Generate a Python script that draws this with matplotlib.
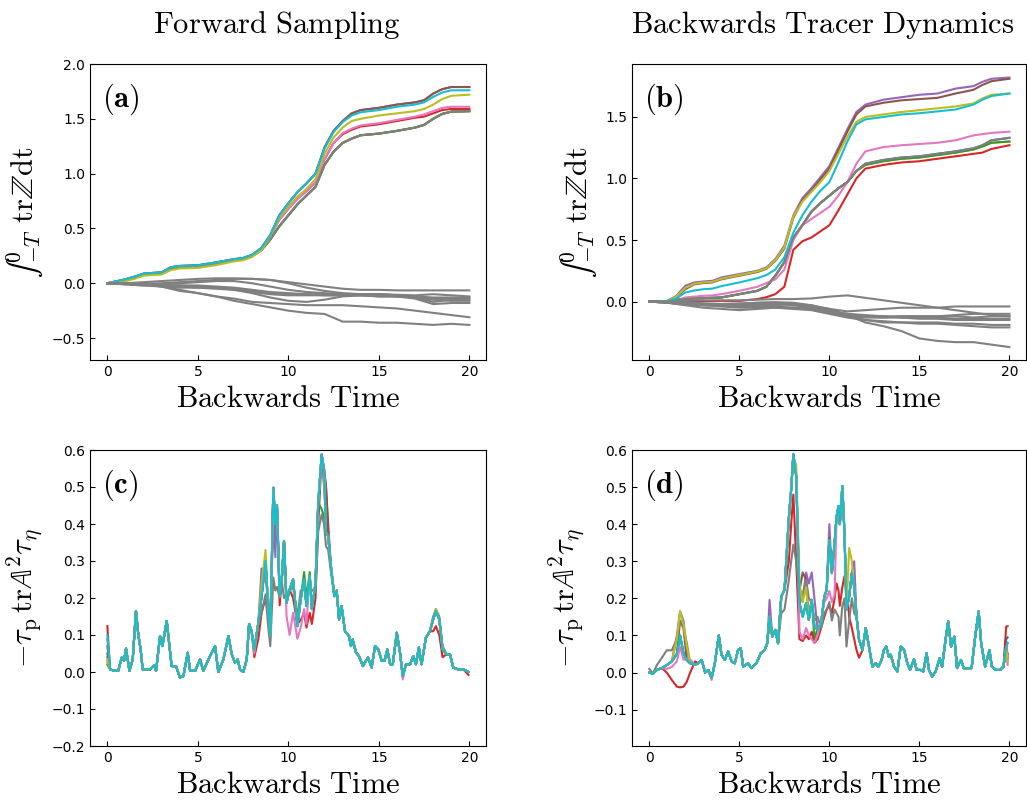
import numpy as np
import matplotlib.pyplot as plt

plt.rcParams['mathtext.fontset'] = 'cm'

# ---------------- panel (a): forward sampling, integrated trZ ----------------
a_t = [0, 1, 1.5, 2, 3, 3.5, 4, 5, 6, 7, 7.5, 8, 8.5, 9, 9.5, 10, 10.5, 11, 11.5,
       12, 12.5, 13, 13.5, 14, 15, 16, 17, 17.5, 18, 18.5, 19, 20]
a_top = [0, 0.036, 0.06, 0.088, 0.10, 0.146, 0.158, 0.164, 0.19, 0.22, 0.23, 0.26, 0.32,
         0.44, 0.62, 0.73, 0.83, 0.91, 1.0, 1.24, 1.39, 1.48, 1.55, 1.58, 1.60, 1.63,
         1.65, 1.67, 1.73, 1.77, 1.79, 1.79]
a_cyan = [0, 0.036, 0.06, 0.088, 0.10, 0.146, 0.158, 0.164, 0.19, 0.22, 0.23, 0.26, 0.32,
          0.44, 0.62, 0.73, 0.83, 0.91, 1.0, 1.23, 1.38, 1.47, 1.53, 1.56, 1.58, 1.61,
          1.63, 1.65, 1.70, 1.74, 1.76, 1.76]
a_olive = [0, 0.02, 0.04, 0.07, 0.08, 0.12, 0.135, 0.14, 0.165, 0.2, 0.21, 0.24, 0.30,
           0.43, 0.60, 0.70, 0.79, 0.86, 0.95, 1.18, 1.33, 1.42, 1.48, 1.50, 1.53, 1.55,
           1.57, 1.59, 1.63, 1.68, 1.71, 1.72]
a_pink = [0, 0.03, 0.05, 0.08, 0.09, 0.135, 0.15, 0.155, 0.18, 0.21, 0.22, 0.25, 0.31,
          0.43, 0.58, 0.68, 0.77, 0.84, 0.92, 1.13, 1.28, 1.37, 1.41, 1.44, 1.46, 1.49,
          1.52, 1.54, 1.57, 1.60, 1.61, 1.61]
a_red = [0, 0.03, 0.05, 0.08, 0.09, 0.135, 0.15, 0.155, 0.18, 0.21, 0.22, 0.25, 0.31,
         0.43, 0.58, 0.68, 0.77, 0.84, 0.92, 1.13, 1.28, 1.36, 1.40, 1.43, 1.45, 1.48,
         1.51, 1.52, 1.55, 1.58, 1.59, 1.59]
a_low = [0, 0.03, 0.05, 0.08, 0.09, 0.135, 0.15, 0.155, 0.18, 0.21, 0.22, 0.25, 0.30,
         0.40, 0.52, 0.62, 0.72, 0.80, 0.88, 1.08, 1.20, 1.28, 1.32, 1.35, 1.365, 1.39,
         1.42, 1.445, 1.50, 1.545, 1.565, 1.57]

ag_t = np.arange(21)
a_grey = [
    [0, 0, -0.005, 0.0, 0.01, 0.02, 0.03, 0.04, 0.04, 0.03, 0.01, -0.01, -0.03, -0.05, -0.06,
     -0.06, -0.065, -0.065, -0.065, -0.065, -0.065],
    [0, 0.0, 0.01, 0.02, 0.03, 0.04, 0.045, 0.045, 0.04, 0.03, 0.0, -0.04, -0.07, -0.09, -0.1,
     -0.1, -0.105, -0.11, -0.1, -0.11, -0.12],
    [0, -0.005, -0.01, -0.01, 0.0, 0.01, 0.02, 0.02, 0.0, -0.03, -0.06, -0.08, -0.09, -0.1,
     -0.1, -0.1, -0.11, -0.12, -0.13, -0.13, -0.13],
    [0, -0.01, -0.02, -0.02, -0.02, -0.03, -0.04, -0.06, -0.09, -0.13, -0.16, -0.17, -0.15,
     -0.12, -0.11, -0.11, -0.12, -0.13, -0.14, -0.14, -0.14],
    [0, -0.01, -0.02, -0.03, -0.04, -0.04, -0.05, -0.06, -0.08, -0.1, -0.11, -0.11, -0.11,
     -0.11, -0.11, -0.12, -0.12, -0.14, -0.19, -0.18, -0.18],
    [0, -0.005, -0.01, -0.02, -0.03, -0.04, -0.04, -0.05, -0.07, -0.09, -0.1, -0.1, -0.1,
     -0.1, -0.1, -0.1, -0.11, -0.13, -0.17, -0.15, -0.15],
    [0, -0.005, -0.01, -0.03, -0.06, -0.09, -0.12, -0.14, -0.17, -0.18, -0.19, -0.2, -0.2,
     -0.2, -0.21, -0.22, -0.23, -0.25, -0.27, -0.29, -0.31],
    [0, -0.005, -0.01, -0.03, -0.07, -0.09, -0.12, -0.16, -0.19, -0.22, -0.25, -0.27, -0.28,
     -0.35, -0.35, -0.36, -0.36, -0.37, -0.38, -0.37, -0.38],
    [0, -0.005, -0.01, -0.02, -0.02, -0.02, -0.03, -0.04, -0.06, -0.08, -0.09, -0.1, -0.11,
     -0.11, -0.11, -0.12, -0.12, -0.13, -0.15, -0.16, -0.16],
]

# ---------------- panel (b): backwards tracer dynamics, integrated trZ ----------------
b_t = [0, 1, 1.5, 2, 2.5, 3, 3.5, 4, 5, 6, 6.5, 7, 7.5, 8, 8.5, 9, 9.5, 10, 10.5, 11,
       11.5, 12, 13, 14, 15, 16, 17, 18, 18.5, 19, 20]
b_purple = [0, 0.005, 0.046, 0.128, 0.155, 0.163, 0.168, 0.196, 0.223, 0.25, 0.277, 0.345,
            0.454, 0.70, 0.84, 0.92, 1.01, 1.10, 1.25, 1.40, 1.54, 1.60, 1.64, 1.66, 1.68,
            1.69, 1.73, 1.75, 1.785, 1.81, 1.82]
b_brown = [0, 0.004, 0.035, 0.10, 0.14, 0.15, 0.155, 0.18, 0.21, 0.24, 0.265, 0.33, 0.43,
           0.68, 0.82, 0.90, 0.99, 1.08, 1.23, 1.38, 1.52, 1.585, 1.615, 1.635, 1.645,
           1.655, 1.69, 1.72, 1.76, 1.79, 1.81]
b_olive = [0, 0.004, 0.04, 0.11, 0.145, 0.155, 0.16, 0.185, 0.215, 0.245, 0.27, 0.335, 0.44,
           0.69, 0.81, 0.89, 0.97, 1.06, 1.20, 1.34, 1.46, 1.50, 1.52, 1.54, 1.555, 1.57,
           1.585, 1.61, 1.65, 1.68, 1.69]
b_cyan = [0, 0.003, 0.025, 0.073, 0.09, 0.10, 0.105, 0.125, 0.155, 0.19, 0.215, 0.26, 0.36,
          0.56, 0.70, 0.81, 0.90, 0.97, 1.13, 1.30, 1.44, 1.48, 1.50, 1.52, 1.53, 1.545,
          1.56, 1.60, 1.64, 1.67, 1.69]
b_pink = [0, 0.001, 0.01, 0.033, 0.04, 0.046, 0.05, 0.06, 0.087, 0.12, 0.15, 0.18, 0.26,
          0.50, 0.62, 0.67, 0.72, 0.77, 0.86, 0.97, 1.12, 1.22, 1.255, 1.27, 1.28, 1.29,
          1.31, 1.35, 1.36, 1.37, 1.38]
b_gray = [0, 0.002, 0.015, 0.02, 0.025, 0.028, 0.03, 0.033, 0.06, 0.087, 0.12, 0.21, 0.32,
          0.52, 0.62, 0.73, 0.80, 0.86, 0.92, 0.97, 1.06, 1.12, 1.15, 1.17, 1.18, 1.20,
          1.22, 1.245, 1.27, 1.31, 1.33]
b_green = [0, 0.002, 0.015, 0.02, 0.025, 0.028, 0.03, 0.033, 0.06, 0.087, 0.12, 0.21, 0.32,
           0.52, 0.62, 0.73, 0.80, 0.86, 0.92, 0.97, 1.06, 1.11, 1.14, 1.16, 1.17, 1.19,
           1.21, 1.235, 1.26, 1.29, 1.30]
b_red = [0, 0, 0, 0.001, 0.002, 0.003, 0.004, 0.005, 0.005, 0.02, 0.035, 0.06, 0.12, 0.42,
         0.49, 0.52, 0.57, 0.62, 0.74, 0.87, 1.0, 1.08, 1.11, 1.13, 1.14, 1.16, 1.18, 1.20,
         1.21, 1.24, 1.27]

bg_t = np.arange(21)
b_grey = [
    [0, 0, 0.005, 0.01, 0.01, 0.01, 0.015, 0.02, 0.02, 0.025, 0.04, 0.05, 0.03, 0.01, -0.01,
     -0.03, -0.05, -0.07, -0.09, -0.11, -0.12],
    [0, -0.005, -0.01, -0.02, -0.03, -0.04, -0.04, -0.03, -0.02, -0.03, -0.06, -0.08, -0.07,
     -0.06, -0.05, -0.05, -0.05, -0.04, -0.04, -0.04, -0.04],
    [0, -0.01, -0.02, -0.03, -0.035, -0.03, -0.02, -0.02, -0.03, -0.05, -0.08, -0.10, -0.11,
     -0.12, -0.13, -0.13, -0.13, -0.14, -0.14, -0.14, -0.14],
    [0, -0.005, -0.015, -0.02, -0.02, -0.015, -0.01, -0.01, -0.02, -0.04, -0.09, -0.12, -0.13,
     -0.13, -0.12, -0.12, -0.12, -0.11, -0.10, -0.10, -0.10],
    [0, -0.01, -0.02, -0.03, -0.04, -0.05, -0.05, -0.05, -0.06, -0.07, -0.10, -0.13, -0.15,
     -0.16, -0.17, -0.17, -0.17, -0.18, -0.18, -0.19, -0.19],
    [0, -0.005, -0.01, -0.015, -0.02, -0.02, -0.01, -0.005, -0.01, -0.03, -0.07, -0.12, -0.15,
     -0.17, -0.17, -0.18, -0.18, -0.19, -0.20, -0.21, -0.21],
    [0, -0.005, -0.01, -0.02, -0.025, -0.03, -0.03, -0.02, -0.02, -0.04, -0.06, -0.11, -0.17,
     -0.20, -0.24, -0.30, -0.32, -0.33, -0.33, -0.35, -0.37],
    [0, -0.01, -0.02, -0.02, -0.03, -0.03, -0.03, -0.04, -0.05, -0.06, -0.08, -0.11, -0.12,
     -0.12, -0.12, -0.12, -0.12, -0.12, -0.13, -0.12, -0.12],
    [0, -0.01, -0.03, -0.05, -0.06, -0.07, -0.06, -0.05, -0.05, -0.06, -0.08, -0.10, -0.12,
     -0.13, -0.13, -0.14, -0.14, -0.15, -0.15, -0.15, -0.15],
]

# ---------------- panel (c): forward sampling, -tau_p trA^2 tau_eta ----------------
c_t = [0.0, 0.15, 0.42, 0.6, 0.79, 0.92, 1.03, 1.22, 1.4, 1.58, 1.71, 1.84, 1.95, 2.17,
       2.36, 2.58, 2.69, 2.91, 3.04, 3.28, 3.43, 3.55, 3.79, 4.01, 4.2, 4.44, 4.57, 4.85,
       5.12, 5.3, 5.67, 5.95, 6.13, 6.41, 6.69, 6.87, 7.05, 7.2, 7.33, 7.51, 7.7, 7.83,
       7.97, 8.12, 8.34, 8.52, 8.74, 8.89, 9.0, 9.17, 9.28, 9.37, 9.52, 9.65, 9.76, 9.9,
       10.07, 10.26, 10.5, 10.68, 10.87, 11.0, 11.18, 11.3, 11.5, 11.65, 11.84, 11.97,
       12.08, 12.2, 12.35, 12.54, 12.67, 12.8, 12.94, 13.13, 13.35, 13.46, 13.55, 13.74,
       13.9, 14.12, 14.4, 14.6, 14.79, 14.97, 15.16, 15.31, 15.47, 15.62, 15.77, 15.99,
       16.17, 16.32, 16.5, 16.73, 16.9, 17.05, 17.21, 17.36, 17.6, 17.82, 18.0, 18.15,
       18.34, 18.52, 18.74, 18.93, 19.11, 19.39, 19.67, 19.95]
c_cyan = [0.10, 0.007, 0.003, 0.003, 0.039, 0.03, 0.063, 0.003, 0.034, 0.165, 0.10, 0.06,
          0.007, 0.007, 0.007, 0.018, 0.003, 0.097, 0.07, 0.138, 0.07, 0.016, 0.016,
          -0.015, -0.011, 0.052, 0.003, 0.003, 0.034, 0.003, 0.043, 0.07, 0.0, 0.034,
          0.097, 0.048, 0.025, 0.034, 0.007, 0.0, 0.034, 0.13, 0.11, 0.06, 0.133, 0.205,
          0.30, 0.17, 0.097, 0.498, 0.40, 0.45, 0.205, 0.26, 0.354, 0.187, 0.223, 0.25,
          0.124, 0.196, 0.25, 0.178, 0.26, 0.17, 0.24, 0.458, 0.588, 0.548, 0.377, 0.368,
          0.286, 0.205, 0.22, 0.142, 0.178, 0.11, 0.097, 0.07, 0.088, 0.052, 0.043, 0.016,
          0.039, 0.012, 0.07, 0.061, 0.03, 0.03, 0.061, 0.021, 0.021, 0.106, 0.052, -0.011,
          0.021, 0.021, 0.043, 0.021, 0.066, 0.021, 0.093, 0.11, 0.142, 0.165, 0.142,
          0.061, 0.048, 0.048, 0.012, 0.007, 0.007, 0.0]
# (time, value) points where a run departs from the cyan one
c_diff = {
    'C0': [(0.0, 0.07)],
    'C1': [(0.0, 0.025)],
    'C2': [(0.0, 0.02), (10.87, 0.27), (11.0, 0.2), (11.18, 0.27), (11.84, 0.44),
           (11.97, 0.42)],
    'C3': [(0.0, 0.124), (8.12, 0.04), (8.34, 0.09), (8.52, 0.16), (8.74, 0.20),
           (8.89, 0.15), (9.0, 0.16), (9.17, 0.40), (9.28, 0.38), (9.37, 0.45),
           (9.52, 0.18), (10.26, 0.20), (10.5, 0.13), (10.68, 0.14), (10.87, 0.16),
           (11.0, 0.12), (11.18, 0.16), (11.3, 0.13), (11.5, 0.20), (11.65, 0.40),
           (11.84, 0.58), (11.97, 0.55), (12.08, 0.50), (12.2, 0.40), (18.0, 0.11),
           (18.15, 0.124), (18.34, 0.10), (18.52, 0.04), (19.95, -0.008)],
    'C4': [(0.0, 0.04), (8.52, 0.28), (8.74, 0.27), (9.28, 0.31), (11.97, 0.50),
           (12.08, 0.44)],
    'C5': [(0.0, 0.05), (12.08, 0.50)],
    'C6': [(0.0, 0.03), (8.12, 0.05), (9.9, 0.15), (10.07, 0.10), (10.26, 0.16),
           (10.5, 0.09), (10.68, 0.12), (10.87, 0.17), (11.0, 0.13), (16.32, -0.02)],
    'C7': [(0.0, 0.09), (8.34, 0.13), (8.52, 0.16), (8.74, 0.21), (8.89, 0.12),
           (9.0, 0.07), (9.17, 0.255), (9.28, 0.22), (9.37, 0.23), (9.52, 0.20),
           (9.65, 0.24), (9.76, 0.20), (9.9, 0.21), (10.07, 0.22), (10.26, 0.23),
           (10.5, 0.15), (10.68, 0.22), (10.87, 0.23), (11.0, 0.20), (11.18, 0.24),
           (11.3, 0.22), (11.5, 0.22), (11.65, 0.38), (11.84, 0.426), (11.97, 0.40),
           (12.08, 0.34), (12.2, 0.33), (12.35, 0.27), (18.0, 0.15), (18.15, 0.17),
           (18.34, 0.15), (18.52, 0.07)],
    'C8': [(0.0, 0.035), (8.52, 0.24), (8.74, 0.33), (11.84, 0.58), (18.15, 0.17)],
}

# ---------------- panel (d): backwards tracer dynamics, -tau_p trA^2 tau_eta ----------------
d_t = [0.0, 0.2, 0.42, 0.7, 0.97, 1.25, 1.53, 1.71, 1.9, 2.08, 2.27, 2.54, 2.73, 2.91,
       3.1, 3.28, 3.46, 3.64, 3.86, 4.01, 4.2, 4.38, 4.57, 4.75, 4.93, 5.08, 5.21, 5.49,
       5.67, 5.95, 6.19, 6.41, 6.55, 6.68, 6.83, 7.0, 7.15, 7.33, 7.51, 7.75, 7.88, 8.0,
       8.16, 8.34, 8.52, 8.71, 8.86, 9.02, 9.17, 9.35, 9.54, 9.72, 9.85, 10.0, 10.14,
       10.29, 10.4, 10.51, 10.58, 10.72, 10.84, 10.95, 11.1, 11.25, 11.38, 11.51, 11.65,
       11.84, 12.02, 12.2, 12.39, 12.57, 12.72, 12.9, 13.03, 13.16, 13.3, 13.41, 13.59,
       13.78, 13.96, 14.15, 14.33, 14.48, 14.7, 14.85, 15.07, 15.22, 15.4, 15.53, 15.71,
       15.9, 16.13, 16.26, 16.45, 16.6, 16.76, 16.94, 17.09, 17.31, 17.46, 17.68, 17.9,
       18.1, 18.29, 18.43, 18.65, 18.89, 19.02, 19.26, 19.48, 19.67, 19.82, 19.9]
d_cyan = [0.0, -0.003, 0.007, 0.012, 0.02, 0.03, 0.05, 0.10, 0.052, 0.034, 0.025, 0.021,
          0.025, 0.034, 0.0, 0.007, -0.015, 0.025, 0.10, 0.048, 0.034, 0.057, 0.03,
          0.025, 0.061, 0.066, 0.016, 0.025, 0.012, 0.025, 0.052, 0.061, 0.079, 0.151,
          0.097, 0.115, 0.079, 0.205, 0.223, 0.417, 0.494, 0.588, 0.53, 0.187, 0.151,
          0.187, 0.142, 0.196, 0.124, 0.115, 0.133, 0.205, 0.223, 0.358, 0.268, 0.35,
          0.42, 0.449, 0.40, 0.503, 0.377, 0.17, 0.205, 0.268, 0.232, 0.151, 0.088,
          0.061, 0.12, 0.07, 0.016, 0.025, 0.016, 0.034, 0.061, 0.07, 0.043, 0.048,
          0.016, 0.003, 0.07, 0.061, 0.025, 0.007, 0.036, 0.007, 0.007, 0.003, 0.052,
          0.007, -0.011, 0.003, 0.039, 0.016, 0.088, 0.138, 0.07, 0.097, 0.012, 0.034,
          0.012, 0.012, 0.012, 0.097, 0.165, 0.079, 0.016, 0.061, 0.016, 0.007, 0.007,
          0.016, 0.07, 0.08]
d_diff = {
    'C0': [(19.82, 0.09), (19.9, 0.095)],
    'C1': [(19.9, 0.04)],
    'C2': [(9.17, 0.09), (9.35, 0.12), (19.9, 0.03)],
    'C3': [(0.97, 0.0), (1.25, -0.02), (1.53, -0.038), (1.71, -0.04), (1.9, -0.038),
           (2.08, -0.025), (2.27, 0.0), (2.54, 0.03), (7.75, 0.30), (7.88, 0.40),
           (8.0, 0.48), (8.16, 0.30), (8.34, 0.09), (8.52, 0.085), (8.71, 0.10),
           (8.86, 0.09), (9.02, 0.11), (9.17, 0.08), (9.35, 0.09), (9.54, 0.12),
           (9.72, 0.15), (9.85, 0.17), (10.0, 0.18), (10.14, 0.16), (10.29, 0.20),
           (10.4, 0.24), (10.51, 0.22), (10.58, 0.18), (10.72, 0.23), (10.84, 0.26),
           (10.95, 0.24), (11.1, 0.15), (11.25, 0.12), (11.38, 0.09), (11.51, 0.06),
           (11.65, 0.04), (19.82, 0.124), (19.9, 0.125)],
    'C4': [(1.53, 0.10), (1.71, 0.165), (1.9, 0.14), (2.08, 0.06), (6.68, 0.196),
           (8.52, 0.20), (8.71, 0.27), (8.86, 0.24), (9.02, 0.27), (9.17, 0.20),
           (10.0, 0.40), (10.72, 0.47), (11.25, 0.27), (11.38, 0.30), (19.9, 0.04)],
    'C5': [(1.71, 0.14), (1.9, 0.12), (8.34, 0.22), (8.52, 0.27), (8.71, 0.25),
           (10.0, 0.363), (19.9, 0.05)],
    'C6': [(0.97, 0.01), (1.25, 0.015), (1.53, 0.03), (1.71, 0.07), (1.9, 0.035),
           (2.08, 0.035), (2.27, 0.035), (3.46, -0.02), (8.34, 0.11), (8.52, 0.09),
           (8.71, 0.12), (8.86, 0.10), (9.02, 0.09), (9.17, 0.08), (9.35, 0.10),
           (9.54, 0.14), (9.72, 0.19), (9.85, 0.20), (10.0, 0.22), (10.14, 0.19),
           (10.29, 0.21), (19.9, 0.02)],
    'C7': [(0.0, 0.01), (0.42, 0.02), (0.7, 0.04), (0.97, 0.06), (1.25, 0.06),
           (1.53, 0.09), (1.71, 0.14), (1.9, 0.12), (2.08, 0.08), (7.33, 0.16),
           (7.51, 0.17), (7.75, 0.25), (7.88, 0.30), (8.0, 0.345), (8.16, 0.30),
           (8.34, 0.22), (8.52, 0.21), (8.71, 0.25), (8.86, 0.20), (9.02, 0.19),
           (9.17, 0.14), (9.35, 0.15), (9.54, 0.12), (9.72, 0.16), (9.85, 0.17),
           (10.0, 0.19), (10.14, 0.14), (10.29, 0.17), (10.4, 0.16), (10.51, 0.15),
           (10.58, 0.10), (10.72, 0.18), (10.84, 0.20), (10.95, 0.07), (11.1, 0.14),
           (11.25, 0.20), (11.38, 0.16)],
    'C8': [(1.53, 0.09), (1.71, 0.165), (1.9, 0.13), (2.08, 0.07), (8.0, 0.58),
           (8.16, 0.56), (8.34, 0.24), (8.52, 0.19), (8.71, 0.23), (11.1, 0.336),
           (11.25, 0.30), (19.9, 0.03)],
}


def with_diff(t, base, pts):
    """copy of the cyan run with the listed points put in"""
    t = np.asarray(t)
    v = np.array(base, dtype=float)
    for tt, vv in pts:
        v[np.argmin(np.abs(t - tt))] = vv
    return v


colors = ['C%d' % i for i in range(10)]

fig = plt.figure(figsize=(10.27, 8.02), dpi=100)
W, H = 1027, 802
axa = fig.add_axes([90 / W, 1 - 360 / H, 396 / W, 296 / H])
axb = fig.add_axes([632 / W, 1 - 360 / H, 394 / W, 296 / H])
axc = fig.add_axes([90 / W, 1 - 746 / H, 396 / W, 296 / H])
axd = fig.add_axes([632 / W, 1 - 746 / H, 394 / W, 296 / H])

# (a)
a_runs = [a_low, a_low, a_low, a_red, a_top, a_top, a_pink, a_low, a_olive, a_cyan]
for c, y in zip(colors, a_runs):
    axa.plot(a_t, y, color=c, lw=1.5)
for y in a_grey:
    axa.plot(ag_t, y, color='gray', lw=1.5)

# (b)
b_runs = [b_gray, b_green, b_green, b_red, b_purple, b_brown, b_pink, b_gray, b_olive, b_cyan]
for c, y in zip(colors, b_runs):
    axb.plot(b_t, y, color=c, lw=1.5)
for y in b_grey:
    axb.plot(bg_t, y, color='gray', lw=1.5)

# (c) and (d)
for c in colors:
    axc.plot(c_t, with_diff(c_t, c_cyan, c_diff.get(c, [])), color=c, lw=1.5)
    axd.plot(d_t, with_diff(d_t, d_cyan, d_diff.get(c, [])), color=c, lw=1.5)

# plain integral glyph so it stays at text size
ylab_int = '$\u222b_{-T}^{0}\\ \\mathrm{tr}\\mathbb{Z}\\mathrm{dt}$'
ylab_tau = r'$-\tau_{\mathrm{p}}\,\mathrm{tr}\mathbb{A}^2\tau_{\eta}$'
xlab = r'$\mathrm{Backwards\ Time}$'

for ax, lab, yl in [(axa, 'a', ylab_int), (axb, 'b', ylab_int),
                    (axc, 'c', ylab_tau), (axd, 'd', ylab_tau)]:
    ax.set_xlim(-0.96, 20.92)
    ax.set_xticks([0, 5, 10, 15, 20])
    ax.tick_params(direction='in', labelsize=10)
    ax.set_xlabel(xlab, fontsize=22)
    ax.set_ylabel(yl, fontsize=22)
    ax.text(0.03, 0.94, r'$(\mathbf{%s})$' % lab, transform=ax.transAxes,
            fontsize=22, va='top', ha='left')

axa.set_ylim(-0.7, 2.0)
axa.set_yticks([-0.5, 0.0, 0.5, 1.0, 1.5, 2.0])
axb.set_ylim(-0.475, 1.93)
axb.set_yticks([0.0, 0.5, 1.0, 1.5])
axc.set_ylim(-0.2, 0.6)
axc.set_yticks(np.arange(-0.2, 0.61, 0.1))
axd.set_ylim(-0.198, 0.6)
axd.set_yticks(np.arange(-0.1, 0.61, 0.1))

fig.text(277 / W, 1 - 25 / H, r'$\mathrm{Forward\ Sampling}$', fontsize=22,
         ha='center', va='center')
fig.text(823 / W, 1 - 25 / H, r'$\mathrm{Backwards\ Tracer\ Dynamics}$', fontsize=22,
         ha='center', va='center')

fig.savefig('out.png', dpi=100)
